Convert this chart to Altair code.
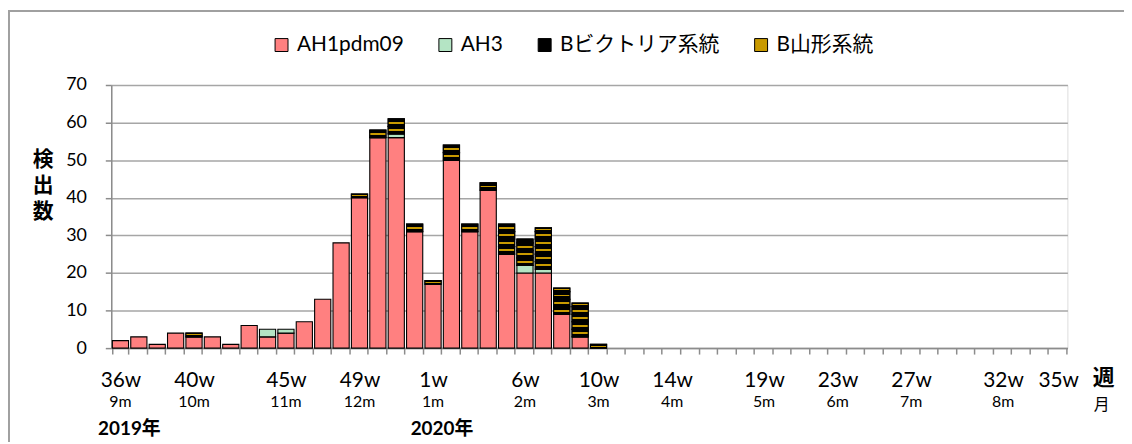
import altair as alt
import pandas as pd

# ---- data ----
weeks = [f"{w}w" for w in list(range(36, 53)) + list(range(1, 36))]
ah1pdm09 = [2, 3, 1, 4, 3, 3, 1, 6, 3, 4, 7, 13, 28, 40, 56, 56, 31,
            17, 50, 31, 42, 25, 20, 20, 9, 3, 0] + [0] * 25
ah3 = [0, 0, 0, 0, 0, 0, 0, 0, 2, 1, 0, 0, 0, 0, 0, 1, 0,
       0, 0, 0, 0, 0, 2, 1, 0, 0, 0] + [0] * 25
b_victoria = [0, 0, 0, 0, 1, 0, 0, 0, 0, 0, 0, 0, 0, 1, 2, 4, 2,
              1, 4, 2, 2, 8, 7, 11, 7, 9, 1] + [0] * 25
b_yamagata = [0] * 52

series_names = ["AH1pdm09", "AH3", "Bビクトリア系統", "B山形系統"]
series_colors = ["#FF8080", "#B4E4C4", "#000000", "#C99A00"]

y_ticks = [0, 10, 20, 30, 40, 50, 60, 70]
labeled_weeks = ["36w", "40w", "45w", "49w", "1w", "6w", "10w", "14w",
                 "19w", "23w", "27w", "32w", "35w"]
month_weeks = ["36w", "40w", "45w", "49w", "1w", "6w", "10w", "14w",
               "19w", "23w", "27w", "32w"]
month_labels = ["9m", "10m", "11m", "12m", "1m", "2m", "3m", "4m",
                "5m", "6m", "7m", "8m"]
year_weeks = ["36w", "1w"]
year_labels = ["2019年", "2020年"]

# ---- build table (B Victoria split into 2-count blocks for the stripe texture) ----
rows = []
for i, wk in enumerate(weeks):
    rows.append(dict(wk=wk, series=series_names[0], v=ah1pdm09[i], ord=0))
    rows.append(dict(wk=wk, series=series_names[1], v=ah3[i], ord=1))
    bv = b_victoria[i]
    blocks = [2] * (bv // 2) + [1] * (bv % 2)
    for j, b in enumerate(blocks):
        rows.append(dict(wk=wk, series=series_names[2], v=b, ord=2 + j))
    rows.append(dict(wk=wk, series=series_names[3], v=b_yamagata[i], ord=100))
df = pd.DataFrame(rows)
df = df[df.v > 0]

FONT = "Lato, 'Noto Sans CJK JP', sans-serif"
GRAY = "#8c8c8c"

xscale = alt.Scale(domain=weeks, paddingInner=0.12, paddingOuter=0.06)
yscale = alt.Scale(domain=[0, 70], nice=False)

label_list = "[" + ",".join(f"'{w}'" for w in labeled_weeks) + "]"
month_map = "{" + ",".join(f"'{w}':'{m}'" for w, m in zip(month_weeks, month_labels)) + "}"
year_map = "{" + ",".join(f"'{w}':'{y}'" for w, y in zip(year_weeks, year_labels)) + "}"

y_axis = alt.Axis(values=y_ticks, grid=True, labelOverlap=False,
                  gridColor="#a6a6a6", gridWidth=1.5, tickSize=6,
                  tickColor=GRAY, tickWidth=1.5, domainColor=GRAY, domainWidth=1.5,
                  labelFontSize=18, labelFont=FONT, labelColor="black",
                  labelPadding=19, labelFlush=False, labelBound=False,
                  title=["検", "出", "数"], titleAngle=0, titleX=-69, titleY=64,
                  titleBaseline="top", titleAlign="center", titleFontWeight="bold",
                  titleFontSize=21, titleLineHeight=26, titleFont=FONT)

base = alt.Chart(df).transform_stack(
    stack="v", groupby=["wk"], as_=["y0", "y1"],
    sort=[alt.SortField("ord", order="ascending")]
)

bars = base.mark_bar(stroke="black", strokeWidth=1.1).encode(
    x=alt.X("wk:O", scale=xscale, sort=weeks,
            axis=alt.Axis(title="週", titleX=999, titleY=30, titleAlign="center",
                          titleBaseline="middle", titleAngle=0, titleFontWeight="bold",
                          titleFontSize=22, titleFont=FONT,
                          tickBand="extent", tickSize=6, tickColor=GRAY, tickWidth=1.5,
                          domainColor=GRAY, domainWidth=1.5,
                          labelExpr=f"indexof({label_list}, datum.value) >= 0 ? datum.value : ''",
                          labelAngle=0, labelFontSize=21, labelFont=FONT, labelColor="black",
                          labelPadding=16, labelOverlap=False, labelFlush=False,
                          labelBound=False, grid=False, orient="bottom")),
    y=alt.Y("y0:Q", scale=yscale, axis=y_axis),
    y2="y1:Q",
    color=alt.Color("series:N",
                    scale=alt.Scale(domain=series_names, range=series_colors),
                    legend=alt.Legend(title=None, orient="none", legendX=161, legendY=-51,
                                      direction="horizontal", symbolType="square",
                                      symbolSize=170, symbolStrokeColor="black",
                                      symbolStrokeWidth=1, labelFontSize=21,
                                      labelFont=FONT, labelColor="black", labelOffset=5,
                                      columnPadding=31, labelLimit=400, padding=0)),
)

stripe = alt.LinearGradient(
    gradient="linear", x1=0, y1=0, x2=0, y2=1,
    stops=[alt.GradientStop(offset=0, color="#000000"),
           alt.GradientStop(offset=0.37, color="#000000"),
           alt.GradientStop(offset=0.37, color="#C99A00"),
           alt.GradientStop(offset=0.63, color="#C99A00"),
           alt.GradientStop(offset=0.63, color="#000000"),
           alt.GradientStop(offset=1, color="#000000")])

vic = base.transform_filter(alt.datum.series == series_names[2]).mark_bar(
    fill=stripe, stroke="black", strokeWidth=1.1).encode(
    x=alt.X("wk:O", scale=xscale, sort=weeks, axis=None),
    y=alt.Y("y0:Q", scale=yscale, axis=y_axis),
    y2="y1:Q",
)

wdf = pd.DataFrame({"wk": weeks})
months = alt.Chart(wdf).mark_point(opacity=0).encode(
    x=alt.X("wk:O", scale=xscale, sort=weeks,
            axis=alt.Axis(orient="bottom", domain=False, ticks=False, grid=False,
                          labelExpr=f"{month_map}[datum.value] || ''",
                          labelAngle=0, labelFontSize=16, labelFont=FONT, labelColor="black",
                          labelPadding=46, labelOverlap=False, labelBound=False,
                          labelFlush=False,
                          title="月", titleX=997, titleY=57, titleAlign="center",
                          titleBaseline="middle", titleAngle=0, titleFontSize=16,
                          titleFontWeight="normal", titleFont=FONT)),
)

years = alt.Chart(wdf).mark_point(opacity=0).encode(
    x=alt.X("wk:O", scale=xscale, sort=weeks,
            axis=alt.Axis(orient="bottom", domain=False, ticks=False, grid=False,
                          labelExpr=f"{year_map}[datum.value] || ''",
                          labelAngle=0, labelFontSize=19, labelFont=FONT, labelColor="black",
                          labelFontWeight="bold", labelPadding=72, labelOffset=9,
                          labelOverlap=False, labelBound=False, labelFlush=False,
                          title=None)),
)

border_df = pd.DataFrame({"k": [0]})
left_border = alt.Chart(border_df).mark_rule(color="#a0a0a0", strokeWidth=2).encode(
    x=alt.value(-103), y=alt.value(-74.5), y2=alt.value(360))
top_border = alt.Chart(border_df).mark_rule(color="#a0a0a0", strokeWidth=2).encode(
    x=alt.value(-104), x2=alt.value(1030), y=alt.value(-74.5))

chart = alt.layer(bars, vic, months, years, left_border, top_border).resolve_scale(
    x="shared").resolve_axis(x="independent").properties(
    width=963, height=265,
    padding={"left": 104, "top": 76, "right": 57, "bottom": 93},
    autosize=alt.AutoSizeParams(type="none"),
).configure_view(stroke="#707070", strokeWidth=1.5).configure(background="white")

chart.save("out.html", embed_options={"renderer": "svg", "actions": False})
